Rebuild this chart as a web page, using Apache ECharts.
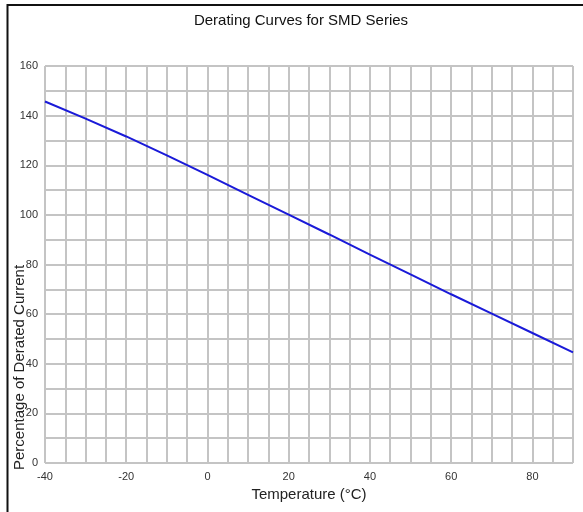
<!DOCTYPE html>
<html>
<head>
<meta charset="utf-8">
<script src="https://cdn.jsdelivr.net/npm/echarts@6/dist/echarts.min.js"></script>
<style>
html,body{margin:0;padding:0;background:#fff;}
#main{width:583px;height:512px;}
</style>
</head>
<body>
<div id="main"></div>
<script>
var temps = [-40, -30, -20, -10, 0, 10, 20, 30, 40, 50, 60, 70, 80, 90];
var derated = [145.7, 138.8, 131.6, 124.0, 116.1, 108.1, 100.1, 92.1, 84.0, 76.0, 68.0, 60.2, 52.4, 44.6];
var xLabels = [-40, -20, 0, 20, 40, 60, 80];
var yLabels = [0, 20, 40, 60, 80, 100, 120, 140, 160];

var chart = echarts.init(document.getElementById('main'));
var font = '"Liberation Sans", Arial, sans-serif';
chart.setOption({
  animation: false,
  backgroundColor: '#fff',
  title: {
    text: 'Derating Curves for SMD Series',
    left: 296, top: 8, textAlign: 'center',
    textStyle: {fontFamily: font, fontSize: 15, fontWeight: 'normal', color: '#111'}
  },
  grid: {left: 45, right: 10, top: 66, bottom: 49},
  xAxis: {
    type: 'value', min: -40, max: 90, interval: 5,
    name: 'Temperature (°C)', nameLocation: 'middle', nameGap: 19,
    nameTextStyle: {fontFamily: font, fontSize: 15, color: '#222'},
    axisLine: {show: false}, axisTick: {show: false},
    axisLabel: {
      fontFamily: font, fontSize: 11, color: '#333', margin: 8,
      formatter: function (v) { return xLabels.indexOf(v) >= 0 ? String(v) : ''; }
    },
    splitLine: {show: true, lineStyle: {color: '#c4c4c4', width: 2}}
  },
  yAxis: {
    type: 'value', min: 0, max: 160, interval: 10,
    axisLine: {show: false}, axisTick: {show: false},
    axisLabel: {
      fontFamily: font, fontSize: 11, color: '#333', margin: 7,
      formatter: function (v) { return yLabels.indexOf(v) >= 0 ? String(v) : ''; }
    },
    splitLine: {show: true, lineStyle: {color: '#c4c4c4', width: 2}}
  },
  graphic: [
    {type: 'text', x: 20, y: 470, rotation: Math.PI / 2,
     style: {text: 'Percentage of Derated Current', fontFamily: font, fontSize: 15, fill: '#222',
             textAlign: 'left', textVerticalAlign: 'middle'}},
    {type: 'line', shape: {x1: 7.5, y1: 4, x2: 7.5, y2: 512}, style: {stroke: '#111', lineWidth: 2}},
    {type: 'line', shape: {x1: 7, y1: 5, x2: 583, y2: 5}, style: {stroke: '#111', lineWidth: 2}}
  ],
  series: [{
    type: 'line',
    data: temps.map(function (t, i) { return [t, derated[i]]; }),
    showSymbol: false, smooth: false,
    lineStyle: {color: '#1a1ad8', width: 2}
  }]
});
</script>
</body>
</html>
